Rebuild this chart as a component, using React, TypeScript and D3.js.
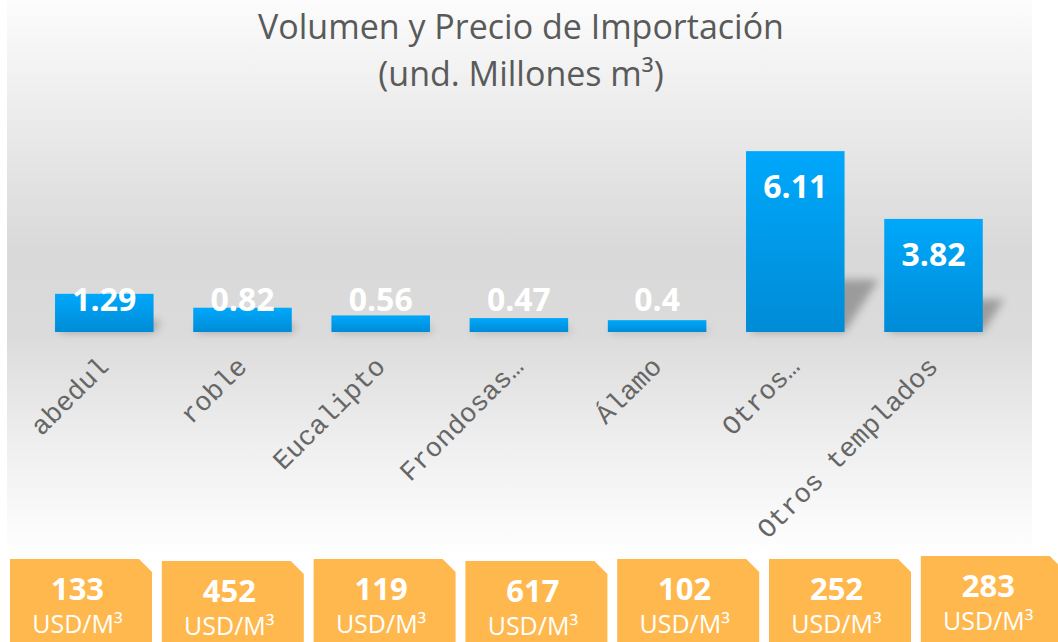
import React, { Component } from "react";
import * as d3 from "d3";

const categories = ["abedul", "roble", "Eucalipto", "Frondosas…", "Álamo", "Otros…", "Otros templados"];
const volumes = [1.29, 0.82, 0.56, 0.47, 0.4, 6.11, 3.82];
const prices = [133, 452, 119, 617, 102, 252, 283];
const titleLines = ["Volumen y Precio de Importación", "(und. Millones m³)"];
const priceUnit = "USD/M³";

class App extends Component {
  svgRef: React.RefObject<SVGSVGElement>;

  constructor(props: any) {
    super(props);
    this.svgRef = React.createRef();
  }

  componentDidMount() {
    this.draw();
  }

  draw() {
    const width = 1058;
    const height = 642;
    const base = 332;
    const svg = d3.select(this.svgRef.current);
    svg.selectAll("*").remove();
    svg.attr("width", width).attr("height", height);

    const defs = svg.append("defs");
    const bg = defs.append("linearGradient").attr("id", "bg")
      .attr("x1", 0).attr("y1", 0).attr("x2", 0).attr("y2", 1);
    [[0, "#fcfcfc"], [0.2, "#ececec"], [0.45, "#d9d9d9"], [0.6, "#dbdbdb"], [0.8, "#efefef"], [1, "#ffffff"]]
      .forEach(([o, c]) => bg.append("stop").attr("offset", o as number).attr("stop-color", c as string));
    const barGrad = defs.append("linearGradient").attr("id", "bar")
      .attr("x1", 0).attr("y1", 0).attr("x2", 0).attr("y2", 1);
    barGrad.append("stop").attr("offset", 0).attr("stop-color", "#00a8fb");
    barGrad.append("stop").attr("offset", 1).attr("stop-color", "#008bd6");
    defs.append("filter").attr("id", "blur")
      .attr("x", "-50%").attr("y", "-50%").attr("width", "200%").attr("height", "200%")
      .append("feGaussianBlur").attr("stdDeviation", 4);

    svg.append("rect").attr("x", 7).attr("y", 0).attr("width", 1025).attr("height", 556)
      .attr("fill", "url(#bg)");

    // title
    svg.append("g")
      .attr("font-family", "'Open Sans', sans-serif")
      .attr("font-size", 34)
      .attr("fill", "#5a5a5a")
      .attr("text-anchor", "middle")
      .selectAll("text")
      .data(titleLines)
      .join("text")
        .attr("x", 521)
        .attr("y", (d, i) => 39 + i * 47)
        .text(d => d);

    const x = d3.scaleBand<string>()
      .domain(categories)
      .range([35.2, 1002.6])
      .paddingInner(0.287)
      .paddingOuter(0.1435);
    const y = d3.scaleLinear().domain([0, 7]).range([base, base - 207.2]);

    const data = categories.map((c, i) => ({ c, v: volumes[i], p: prices[i] }));

    // floor shadows
    svg.append("g")
      .attr("fill", "#7a7a7a")
      .attr("opacity", 0.65)
      .attr("filter", "url(#blur)")
      .selectAll("path")
      .data(data)
      .join("path")
        .attr("d", d => {
          const x0 = x(d.c)!;
          const x1 = x0 + x.bandwidth();
          const sh = (base - y(d.v)) * 0.29;
          const dx = sh * 0.65;
          return `M${x0 + 4},${base} L${x1},${base} L${x1 + dx},${base - sh} L${x0 + dx},${base - sh} Z`;
        });

    svg.append("g")
      .selectAll("rect")
      .data(data)
      .join("rect")
        .attr("x", d => x(d.c)!)
        .attr("y", d => y(d.v))
        .attr("width", x.bandwidth())
        .attr("height", d => base - y(d.v))
        .attr("fill", "url(#bar)");

    svg.append("g")
      .attr("font-family", "'Open Sans', sans-serif")
      .attr("font-weight", "bold")
      .attr("font-size", 32)
      .attr("fill", "#ffffff")
      .attr("text-anchor", "middle")
      .selectAll("text")
      .data(data)
      .join("text")
        .attr("x", d => x(d.c)! + x.bandwidth() / 2)
        .attr("y", d => Math.min(y(d.v) + 47, 311))
        .text(d => String(d.v));

    // category labels
    svg.append("g")
      .attr("font-family", "'Liberation Mono', monospace")
      .attr("font-size", 27)
      .attr("fill", "#666666")
      .attr("text-anchor", "end")
      .selectAll("text")
      .data(data)
      .join("text")
        .attr("transform", d => `translate(${x(d.c)! + x.bandwidth() / 2 + 6},${368}) rotate(-45)`)
        .text(d => d.c);

    // price boxes
    const bx = d3.scaleBand<string>()
      .domain(categories)
      .range([10, 1062.8])
      .paddingInner(0.0646)
      .paddingOuter(0);
    const boxTop = [559, 561, 559, 561, 559, 559, 556];
    const cut = 13;
    const box = svg.append("g")
      .selectAll("g")
      .data(data)
      .join("g");
    box.append("path")
      .attr("fill", "#ffb84d")
      .attr("d", (d, i) => {
        const x0 = bx(d.c)!;
        const w = bx.bandwidth();
        const t = boxTop[i];
        return `M${x0},${t} H${x0 + w - cut} L${x0 + w},${t + cut} V${height + 10} H${x0} Z`;
      });
    box.append("text")
      .attr("x", d => bx(d.c)! + 67.5)
      .attr("y", (d, i) => boxTop[i] + 41)
      .attr("text-anchor", "middle")
      .attr("font-family", "'Open Sans', sans-serif")
      .attr("font-weight", "bold")
      .attr("font-size", 31)
      .attr("fill", "#ffffff")
      .text(d => d.p);
    box.append("text")
      .attr("x", d => bx(d.c)! + 67.5)
      .attr("y", (d, i) => boxTop[i] + 74)
      .attr("text-anchor", "middle")
      .attr("font-family", "'Open Sans', sans-serif")
      .attr("font-size", 25)
      .attr("fill", "#ffffff")
      .text(priceUnit);
  }

  render() {
    return (
      <svg ref={this.svgRef} style={{ position: "absolute", left: 0, top: 0, display: "block" }}></svg>
    );
  }
}

export default App;
